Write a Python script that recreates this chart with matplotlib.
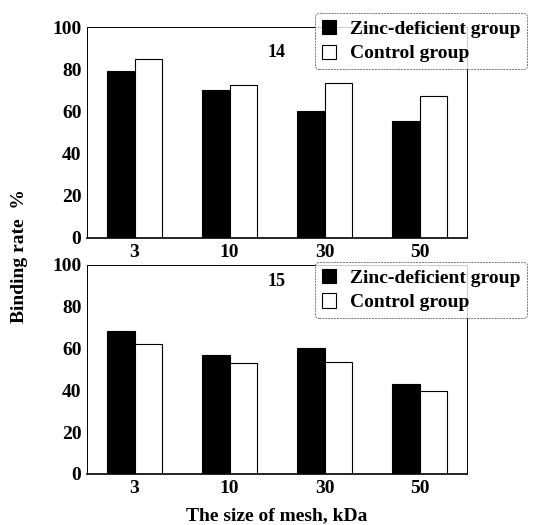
import numpy as np
import matplotlib
matplotlib.use('Agg')
import matplotlib.pyplot as plt

plt.rcParams['font.family'] = ['Liberation Serif', 'DejaVu Serif']
plt.rcParams['font.weight'] = 'bold'

sizes = ['3', '10', '30', '50']
zinc14 = [79.3, 70.0, 60.2, 55.6]
ctrl14 = [84.8, 72.7, 73.3, 67.3]
zinc15 = [68.6, 57.0, 60.5, 43.0]
ctrl15 = [62.3, 53.3, 53.8, 39.8]
panels = ['14', '15']
yticks = [0, 20, 40, 60, 80, 100]


def drawPanel(ax, zinc, ctrl, tag, tagY, legY):
    x = np.arange(len(sizes))
    w = 0.29
    ax.bar(x - w / 2, zinc, w, color='black', edgecolor='black', linewidth=0.8,
           label='Zinc-deficient group')
    ax.bar(x + w / 2, ctrl, w, color='white', edgecolor='black', linewidth=0.8,
           label='Control group')
    ax.set_xlim(-0.5, 3.5)
    ax.set_ylim(0, 100)
    ax.set_xticks(x)
    ax.set_xticklabels(sizes)
    ax.set_yticks(yticks)
    ax.tick_params(length=0, labelsize=14, pad=4)
    for s in ax.spines.values():
        s.set_linewidth(0.7)
    ax.spines['bottom'].set_linewidth(1.2)
    ax.text(1.5, tagY, tag, ha='center', va='center', fontsize=13)
    leg = ax.legend(loc='upper left', bbox_to_anchor=(0.6, legY), fontsize=14,
                    frameon=True, fancybox=True, handlelength=0.75, handleheight=0.75,
                    handletextpad=0.7, borderpad=0.35, labelspacing=0.35,
                    borderaxespad=0)
    leg.get_frame().set_edgecolor('#555555')
    leg.get_frame().set_linewidth(0.7)
    leg.get_frame().set_linestyle((0, (2, 1)))


fig = plt.figure(figsize=[5.43, 5.25], dpi=100)
ax1 = fig.add_axes([87 / 543, 1 - 238 / 525, 380 / 543, 211 / 525])
ax2 = fig.add_axes([87 / 543, 1 - 474 / 525, 380 / 543, 209 / 525])
drawPanel(ax1, zinc14, ctrl14, panels[0], 88, 1.066)
drawPanel(ax2, zinc15, ctrl15, panels[1], 92, 1.015)

fig.text(20 / 543, 1 - 256 / 525, 'Binding rate  %', rotation=90, ha='center',
         va='center', fontsize=14)
fig.text(277 / 543, 1 - 516 / 525, 'The size of mesh, kDa', ha='center',
         va='center', fontsize=14)

plt.savefig('out.png', dpi=100)
